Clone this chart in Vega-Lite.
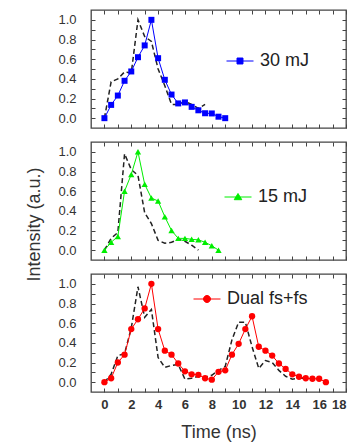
{
  "$schema": "https://vega.github.io/schema/vega-lite/v6.json",
  "padding": {"left": 25, "top": 8, "right": 5, "bottom": 2},
  "background": "white",
  "config": {
    "font": "Liberation Sans",
    "view": {"stroke": "#444", "strokeWidth": 1.3},
    "axis": {"domain": false, "grid": false, "tickColor": "#444", "tickSize": -4, "tickWidth": 1, "labelFont": "Liberation Sans", "labelFontSize": 13, "labelColor": "#333", "titleFont": "Liberation Sans", "titleFontSize": 18, "titleFontWeight": "normal", "titleColor": "#333"},
    "legend": {"orient": "none", "title": null, "padding": 0, "labelFontSize": 18, "labelColor": "#222", "labelFont": "Liberation Sans", "labelOffset": 6, "symbolStrokeWidth": 1, "symbolSize": 729}
  },
  "datasets": {
    "d30": [
      {"t": 0, "v": 0, "s": "ref"}, {"t": 0.5, "v": 0.37, "s": "ref"}, {"t": 1, "v": 0.4, "s": "ref"}, {"t": 1.5, "v": 0.47, "s": "ref"}, {"t": 2, "v": 0.46, "s": "ref"}, {"t": 2.5, "v": 1.0, "s": "ref"}, {"t": 3, "v": 0.83, "s": "ref"}, {"t": 3.5, "v": 0.78, "s": "ref"}, {"t": 4, "v": 0.5, "s": "ref"}, {"t": 4.5, "v": 0.33, "s": "ref"}, {"t": 5, "v": 0.14, "s": "ref"}, {"t": 5.5, "v": 0.14, "s": "ref"}, {"t": 6, "v": 0.17, "s": "ref"}, {"t": 6.5, "v": 0.14, "s": "ref"}, {"t": 7, "v": 0.1, "s": "ref"}, {"t": 7.5, "v": 0.14, "s": "ref"},
      {"t": 0, "v": 0, "s": "30 mJ"}, {"t": 0.5, "v": 0.135, "s": "30 mJ"}, {"t": 1, "v": 0.23, "s": "30 mJ"}, {"t": 1.5, "v": 0.38, "s": "30 mJ"}, {"t": 2, "v": 0.475, "s": "30 mJ"}, {"t": 2.5, "v": 0.62, "s": "30 mJ"}, {"t": 3, "v": 0.74, "s": "30 mJ"}, {"t": 3.5, "v": 1.0, "s": "30 mJ"}, {"t": 4, "v": 0.61, "s": "30 mJ"}, {"t": 4.5, "v": 0.39, "s": "30 mJ"}, {"t": 5, "v": 0.24, "s": "30 mJ"}, {"t": 5.5, "v": 0.15, "s": "30 mJ"}, {"t": 6, "v": 0.16, "s": "30 mJ"}, {"t": 6.5, "v": 0.115, "s": "30 mJ"}, {"t": 7, "v": 0.08, "s": "30 mJ"}, {"t": 7.5, "v": 0.05, "s": "30 mJ"}, {"t": 8, "v": 0.048, "s": "30 mJ"}, {"t": 8.5, "v": 0.015, "s": "30 mJ"}, {"t": 9, "v": 0.0, "s": "30 mJ"}
    ],
    "d15": [
      {"t": 0, "v": 0, "s": "ref"}, {"t": 0.5, "v": 0.12, "s": "ref"}, {"t": 1, "v": 0.18, "s": "ref"}, {"t": 1.5, "v": 0.98, "s": "ref"}, {"t": 2, "v": 0.82, "s": "ref"}, {"t": 2.5, "v": 0.76, "s": "ref"}, {"t": 3, "v": 0.38, "s": "ref"}, {"t": 3.5, "v": 0.27, "s": "ref"}, {"t": 4, "v": 0.1, "s": "ref"}, {"t": 4.5, "v": 0.07, "s": "ref"}, {"t": 5, "v": 0.08, "s": "ref"}, {"t": 5.5, "v": 0.11, "s": "ref"}, {"t": 6, "v": 0.09, "s": "ref"}, {"t": 6.5, "v": 0.05, "s": "ref"}, {"t": 7, "v": 0.0, "s": "ref"},
      {"t": 0, "v": 0, "s": "15 mJ"}, {"t": 0.5, "v": 0.08, "s": "15 mJ"}, {"t": 1, "v": 0.14, "s": "15 mJ"}, {"t": 1.5, "v": 0.6, "s": "15 mJ"}, {"t": 2, "v": 0.77, "s": "15 mJ"}, {"t": 2.5, "v": 1.0, "s": "15 mJ"}, {"t": 3, "v": 0.67, "s": "15 mJ"}, {"t": 3.5, "v": 0.53, "s": "15 mJ"}, {"t": 4, "v": 0.5, "s": "15 mJ"}, {"t": 4.5, "v": 0.34, "s": "15 mJ"}, {"t": 5, "v": 0.2, "s": "15 mJ"}, {"t": 5.5, "v": 0.12, "s": "15 mJ"}, {"t": 6, "v": 0.12, "s": "15 mJ"}, {"t": 6.5, "v": 0.11, "s": "15 mJ"}, {"t": 7, "v": 0.105, "s": "15 mJ"}, {"t": 7.5, "v": 0.08, "s": "15 mJ"}, {"t": 8, "v": 0.045, "s": "15 mJ"}, {"t": 8.5, "v": 0.0, "s": "15 mJ"}
    ],
    "ddual": [
      {"t": 0, "v": 0, "s": "ref"}, {"t": 0.5, "v": 0.08, "s": "ref"}, {"t": 1, "v": 0.27, "s": "ref"}, {"t": 1.5, "v": 0.29, "s": "ref"}, {"t": 2, "v": 0.55, "s": "ref"}, {"t": 2.5, "v": 0.97, "s": "ref"}, {"t": 3, "v": 0.66, "s": "ref"}, {"t": 3.5, "v": 0.74, "s": "ref"}, {"t": 4, "v": 0.25, "s": "ref"}, {"t": 4.5, "v": 0.15, "s": "ref"}, {"t": 5, "v": 0.17, "s": "ref"}, {"t": 5.5, "v": 0.18, "s": "ref"}, {"t": 6, "v": 0.03, "s": "ref"}, {"t": 6.5, "v": 0.04, "s": "ref"}, {"t": 7, "v": 0.06, "s": "ref"}, {"t": 7.5, "v": 0.05, "s": "ref"}, {"t": 8, "v": 0.07, "s": "ref"}, {"t": 8.5, "v": 0.12, "s": "ref"}, {"t": 9, "v": 0.16, "s": "ref"}, {"t": 9.5, "v": 0.43, "s": "ref"}, {"t": 10, "v": 0.61, "s": "ref"}, {"t": 10.5, "v": 0.61, "s": "ref"}, {"t": 11, "v": 0.36, "s": "ref"}, {"t": 11.5, "v": 0.14, "s": "ref"}, {"t": 12, "v": 0.22, "s": "ref"}, {"t": 12.5, "v": 0.2, "s": "ref"}, {"t": 13, "v": 0.12, "s": "ref"}, {"t": 13.5, "v": 0.06, "s": "ref"}, {"t": 14, "v": 0.03, "s": "ref"}, {"t": 14.5, "v": 0.04, "s": "ref"}, {"t": 15, "v": 0.04, "s": "ref"},
      {"t": 0, "v": 0, "s": "Dual fs+fs"}, {"t": 0.5, "v": 0.04, "s": "Dual fs+fs"}, {"t": 1, "v": 0.2, "s": "Dual fs+fs"}, {"t": 1.5, "v": 0.28, "s": "Dual fs+fs"}, {"t": 2, "v": 0.54, "s": "Dual fs+fs"}, {"t": 2.5, "v": 0.64, "s": "Dual fs+fs"}, {"t": 3, "v": 0.75, "s": "Dual fs+fs"}, {"t": 3.5, "v": 1.0, "s": "Dual fs+fs"}, {"t": 4, "v": 0.54, "s": "Dual fs+fs"}, {"t": 4.5, "v": 0.32, "s": "Dual fs+fs"}, {"t": 5, "v": 0.28, "s": "Dual fs+fs"}, {"t": 5.5, "v": 0.19, "s": "Dual fs+fs"}, {"t": 6, "v": 0.11, "s": "Dual fs+fs"}, {"t": 6.5, "v": 0.08, "s": "Dual fs+fs"}, {"t": 7, "v": 0.075, "s": "Dual fs+fs"}, {"t": 7.5, "v": 0.04, "s": "Dual fs+fs"}, {"t": 8, "v": 0.025, "s": "Dual fs+fs"}, {"t": 8.5, "v": 0.105, "s": "Dual fs+fs"}, {"t": 9, "v": 0.12, "s": "Dual fs+fs"}, {"t": 9.5, "v": 0.28, "s": "Dual fs+fs"}, {"t": 10, "v": 0.39, "s": "Dual fs+fs"}, {"t": 10.5, "v": 0.54, "s": "Dual fs+fs"}, {"t": 11, "v": 0.67, "s": "Dual fs+fs"}, {"t": 11.5, "v": 0.36, "s": "Dual fs+fs"}, {"t": 12, "v": 0.32, "s": "Dual fs+fs"}, {"t": 12.5, "v": 0.27, "s": "Dual fs+fs"}, {"t": 13, "v": 0.19, "s": "Dual fs+fs"}, {"t": 13.5, "v": 0.135, "s": "Dual fs+fs"}, {"t": 14, "v": 0.08, "s": "Dual fs+fs"}, {"t": 14.5, "v": 0.055, "s": "Dual fs+fs"}, {"t": 15, "v": 0.04, "s": "Dual fs+fs"}, {"t": 15.5, "v": 0.035, "s": "Dual fs+fs"}, {"t": 16, "v": 0.035, "s": "Dual fs+fs"}, {"t": 16.5, "v": 0.0, "s": "Dual fs+fs"}
    ]
  },
  "spacing": 14,
  "bounds": "flush",
  "resolve": {"scale": {"color": "independent"}, "legend": {"color": "independent"}},
  "vconcat": [
    {
      "width": 255, "height": 118,
      "data": {"name": "d30"},
      "resolve": {"axis": {"x": "independent", "y": "independent"}},
      "layer": [
        {
          "transform": [{"filter": "datum.s == 'ref'"}],
          "mark": {"type": "line", "color": "#222", "strokeWidth": 1.5, "strokeDash": [5, 3]},
          "encoding": {
            "x": {"field": "t", "type": "quantitative", "scale": {"domain": [-1, 18], "nice": false}, "axis": {"orient": "bottom", "values": [0,1,2,3,4,5,6,7,8,9,10,11,12,13,14,15,16,17,18], "labels": false, "title": null}},
            "y": {"field": "v", "type": "quantitative", "scale": {"domain": [-0.1, 1.1], "nice": false, "zero": false}, "axis": {"orient": "left", "values": [0,0.1,0.2,0.3,0.4,0.5,0.6,0.7,0.8,0.9,1.0], "labelExpr": "round(datum.value*10) % 2 == 0 ? format(datum.value, '.1f') : ''", "labelPadding": 19, "title": null}}
          }
        },
        {
          "transform": [{"filter": "datum.s != 'ref'"}],
          "mark": {"type": "line", "strokeWidth": 1, "point": {"shape": "square", "size": 36, "filled": true, "opacity": 1}},
          "encoding": {
            "x": {"field": "t", "type": "quantitative", "scale": {"domain": [-1, 18], "nice": false}, "axis": {"orient": "top", "values": [0,1,2,3,4,5,6,7,8,9,10,11,12,13,14,15,16,17,18], "labels": false, "title": null}},
            "y": {"field": "v", "type": "quantitative", "scale": {"domain": [-0.1, 1.1], "nice": false, "zero": false}, "axis": {"orient": "right", "values": [0,0.1,0.2,0.3,0.4,0.5,0.6,0.7,0.8,0.9,1.0], "labels": false, "title": null}},
            "color": {"field": "s", "type": "nominal", "scale": {"range": ["#0000ff"]}, "legend": {"legendX": 135, "legendY": 37, "symbolType": "M-1,0H1M-0.22,-0.22H0.22V0.22H-0.22Z"}}
          }
        }
      ]
    },
    {
      "width": 255, "height": 118,
      "data": {"name": "d15"},
      "resolve": {"axis": {"x": "independent", "y": "independent"}},
      "layer": [
        {
          "transform": [{"filter": "datum.s == 'ref'"}],
          "mark": {"type": "line", "color": "#222", "strokeWidth": 1.5, "strokeDash": [5, 3]},
          "encoding": {
            "x": {"field": "t", "type": "quantitative", "scale": {"domain": [-1, 18], "nice": false}, "axis": {"orient": "bottom", "values": [0,1,2,3,4,5,6,7,8,9,10,11,12,13,14,15,16,17,18], "labels": false, "title": null}},
            "y": {"field": "v", "type": "quantitative", "scale": {"domain": [-0.1, 1.1], "nice": false, "zero": false}, "axis": {"orient": "left", "values": [0,0.1,0.2,0.3,0.4,0.5,0.6,0.7,0.8,0.9,1.0], "labelExpr": "round(datum.value*10) % 2 == 0 ? format(datum.value, '.1f') : ''", "labelPadding": 19, "title": "Intensity (a.u.)", "titlePadding": 14, "titleY": 82}}
          }
        },
        {
          "transform": [{"filter": "datum.s != 'ref'"}],
          "mark": {"type": "line", "strokeWidth": 1, "point": {"shape": "triangle-up", "size": 40, "filled": true, "opacity": 1}},
          "encoding": {
            "x": {"field": "t", "type": "quantitative", "scale": {"domain": [-1, 18], "nice": false}, "axis": {"orient": "top", "values": [0,1,2,3,4,5,6,7,8,9,10,11,12,13,14,15,16,17,18], "labels": false, "title": null}},
            "y": {"field": "v", "type": "quantitative", "scale": {"domain": [-0.1, 1.1], "nice": false, "zero": false}, "axis": {"orient": "right", "values": [0,0.1,0.2,0.3,0.4,0.5,0.6,0.7,0.8,0.9,1.0], "labels": false, "title": null}},
            "color": {"field": "s", "type": "nominal", "scale": {"range": ["#00ee00"]}, "legend": {"legendX": 133, "legendY": 41, "symbolType": "M-1,0H1M0,-0.26L0.28,0.2H-0.28Z"}}
          }
        }
      ]
    },
    {
      "width": 255, "height": 118,
      "data": {"name": "ddual"},
      "resolve": {"axis": {"x": "independent", "y": "independent"}},
      "layer": [
        {
          "transform": [{"filter": "datum.s == 'ref'"}],
          "mark": {"type": "line", "color": "#222", "strokeWidth": 1.5, "strokeDash": [5, 3]},
          "encoding": {
            "x": {"field": "t", "type": "quantitative", "scale": {"domain": [-1, 18], "nice": false}, "axis": {"orient": "bottom", "values": [0,1,2,3,4,5,6,7,8,9,10,11,12,13,14,15,16,17,18], "labelExpr": "datum.value % 2 == 0 ? datum.label : ''", "labelFontWeight": "bold", "labelPadding": 10, "title": "Time (ns)", "titlePadding": 12}},
            "y": {"field": "v", "type": "quantitative", "scale": {"domain": [-0.1, 1.1], "nice": false, "zero": false}, "axis": {"orient": "left", "values": [0,0.1,0.2,0.3,0.4,0.5,0.6,0.7,0.8,0.9,1.0], "labelExpr": "round(datum.value*10) % 2 == 0 ? format(datum.value, '.1f') : ''", "labelPadding": 19, "title": null}}
          }
        },
        {
          "transform": [{"filter": "datum.s != 'ref'"}],
          "mark": {"type": "line", "strokeWidth": 1, "point": {"shape": "circle", "size": 40, "filled": true, "opacity": 1}},
          "encoding": {
            "x": {"field": "t", "type": "quantitative", "scale": {"domain": [-1, 18], "nice": false}, "axis": {"orient": "top", "values": [0,1,2,3,4,5,6,7,8,9,10,11,12,13,14,15,16,17,18], "labels": false, "title": null}},
            "y": {"field": "v", "type": "quantitative", "scale": {"domain": [-0.1, 1.1], "nice": false, "zero": false}, "axis": {"orient": "right", "values": [0,0.1,0.2,0.3,0.4,0.5,0.6,0.7,0.8,0.9,1.0], "labels": false, "title": null}},
            "color": {"field": "s", "type": "nominal", "scale": {"range": ["#ff0000"]}, "legend": {"legendX": 102, "legendY": 11, "symbolType": "M-1,0H1M0.26,0A0.26,0.26 0 1,1 -0.26,0A0.26,0.26 0 1,1 0.26,0Z"}}
          }
        }
      ]
    }
  ]
}
